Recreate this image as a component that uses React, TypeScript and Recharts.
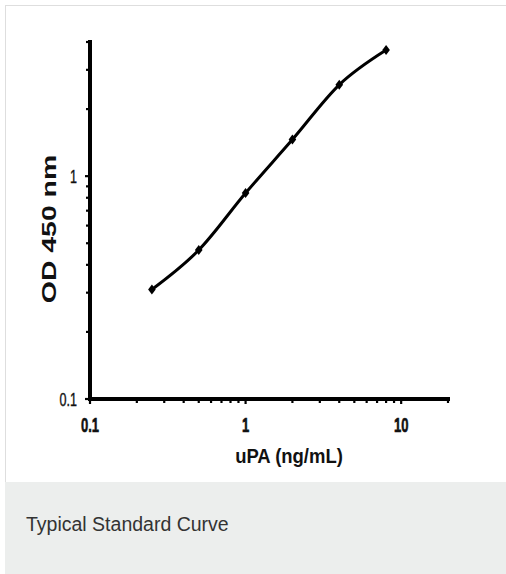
import { LineChart, Line, XAxis, YAxis, ReferenceLine } from 'recharts'

// standard concentrations (ng/mL) and measured OD 450 nm
const conc = [0.25, 0.5, 1, 2, 4, 8]
const od = [0.31, 0.466, 0.84, 1.46, 2.57, 3.68]

// log ticks: every step gets a tick mark, only decades get a label
const xTicks = [0.1, 0.2, 0.3, 0.4, 0.5, 0.6, 0.7, 0.8, 0.9, 1, 2, 3, 4, 5, 6, 7, 8, 9, 10, 20]
const yTicks = [0.1, 0.2, 0.3, 0.4, 0.5, 0.6, 0.7, 0.8, 0.9, 1, 2, 3, 4]
const xLabels = [0.1, 1, 10]
const yLabels = [0.1, 1]

const FONT = '"Liberation Sans", Arial, sans-serif'

const data = conc.map((c, i) => ({ conc: c, od: od[i] }))

function XTick({ x, y, payload }: any) {
  const v = payload.value
  const major = xLabels.includes(v)
  return (
    <g>
      <line x1={x} x2={x} y1={y} y2={y + (major ? 5 : 4)} stroke="#000" strokeWidth={2.2} />
      {major && (
        <text
          transform={`translate(${x},${y + 33}) scale(0.62,1)`}
          textAnchor="middle"
          fontFamily={FONT}
          fontWeight="bold"
          fontSize={21}
          fill="#111"
          stroke="#111"
          strokeWidth={0.6}
        >
          {String(v)}
        </text>
      )}
    </g>
  )
}

function YTick({ x, y, payload }: any) {
  const v = payload.value
  const major = yLabels.includes(v)
  return (
    <g>
      <line x1={x} x2={x - (major ? 5 : 4)} y1={y} y2={y} stroke="#000" strokeWidth={2.2} />
      {major && (
        <text
          transform={`translate(${x - 13},${y + 7}) scale(0.66,1)`}
          textAnchor="end"
          fontFamily={FONT}
          fontSize={19}
          fill="#111"
          stroke="#111"
          strokeWidth={0.4}
        >
          {String(v)}
        </text>
      )}
    </g>
  )
}

function Diamond({ cx, cy }: any) {
  if (cx == null || cy == null) return null
  return <path d={`M${cx},${cy - 5} L${cx + 3.8},${cy} L${cx},${cy + 5} L${cx - 3.8},${cy} Z`} fill="#000" />
}

export default function App() {
  return (
    <div style={{ position: 'absolute', left: 0, top: 0, width: 506, height: 574, background: '#fff', overflow: 'hidden' }}>
      <div
        style={{
          position: 'absolute', left: 5, top: 5, width: 520, height: 478,
          border: '1px solid #dedede', boxSizing: 'border-box',
        }}
      />
      <div style={{ position: 'absolute', left: 0, top: 0 }}>
        <LineChart width={506} height={480} data={data} margin={{ top: 42, right: 58, bottom: 51, left: 60 }}>
          <XAxis
            dataKey="conc"
            type="number"
            scale="log"
            domain={[0.1, 20]}
            ticks={xTicks}
            interval={0}
            height={30}
            tickSize={0}
            tickMargin={0}
            tickLine={false}
            tick={<XTick />}
            axisLine={false}
            allowDataOverflow
            label={{
              content: ({ viewBox }: any) => (
                <text
                  transform={`translate(${viewBox.x + 199},${viewBox.y + 64}) scale(0.88,1)`}
                  textAnchor="middle"
                  fontFamily={FONT}
                  fontWeight="bold"
                  fontSize={21}
                  fill="#111"
                >
                  uPA (ng/mL)
                </text>
              ),
            }}
          />
          <YAxis
            dataKey="od"
            type="number"
            scale="log"
            domain={[0.1, 4]}
            ticks={yTicks}
            interval={0}
            width={30}
            tickSize={0}
            tickMargin={0}
            tickLine={false}
            tick={<YTick />}
            axisLine={false}
            allowDataOverflow
            label={{
              content: ({ viewBox }: any) => (
                <text
                  transform={`translate(${viewBox.x + viewBox.width - 41},${viewBox.y + 187}) rotate(-90) scale(1.42,1)`}
                  textAnchor="middle"
                  dy="0.36em"
                  fontFamily={FONT}
                  fontWeight="bold"
                  fontSize={20}
                  fill="#111"
                >
                  OD 450 nm
                </text>
              ),
            }}
          />
          {/* heavy axis lines, drawn at the domain minimum */}
          <ReferenceLine x={0.1} stroke="#000" strokeWidth={4} strokeLinecap="square" ifOverflow="visible" />
          <ReferenceLine y={0.1} stroke="#000" strokeWidth={4} strokeLinecap="square" ifOverflow="visible" />
          <Line
            dataKey="od"
            type="monotone"
            stroke="#000"
            strokeWidth={3}
            dot={<Diamond />}
            activeDot={false}
            isAnimationActive={false}
          />
        </LineChart>
      </div>
      <div style={{ position: 'absolute', left: 5, top: 482, width: 501, height: 92, background: '#eceeed' }} />
      <div
        style={{
          position: 'absolute', left: 26, top: 512, fontFamily: FONT, fontSize: 19.5,
          color: '#333', lineHeight: '24px', whiteSpace: 'nowrap',
        }}
      >
        Typical Standard Curve
      </div>
    </div>
  )
}
